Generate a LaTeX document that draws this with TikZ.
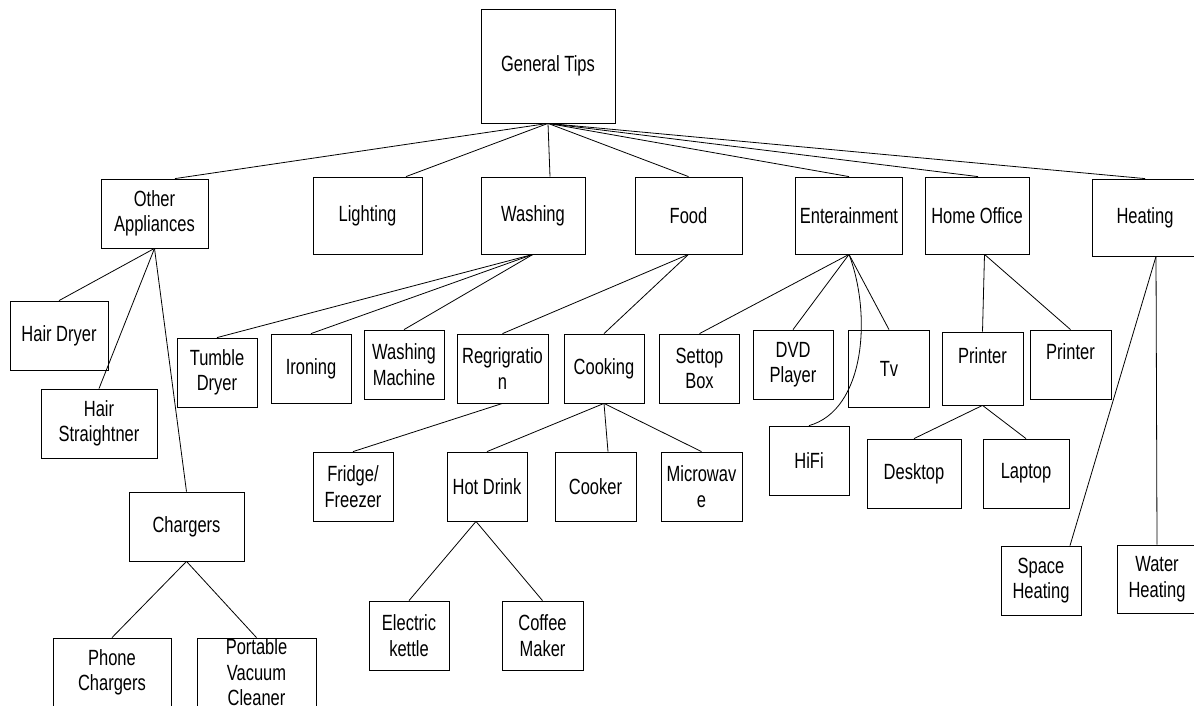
\documentclass[tikz,border=0pt]{standalone}
\usepackage{fontspec}
\setmainfont{Liberation Sans}[FakeStretch=0.75]
\usepackage{tikz}

\begin{document}
\begin{tikzpicture}[
      x=1pt, y=-1pt,
      box/.style={draw, line width=0.8pt, inner sep=0pt, align=center,
                  font=\fontsize{22}{25.5}\selectfont},
      cat/.style={box, minimum width=107pt, minimum height=77pt},
      leaf/.style={box, minimum width=81pt, minimum height=69pt},
      link/.style={line width=0.8pt}
    ]
    \useasboundingbox (0,0) rectangle (1194,706);

    \node[box, minimum width=134pt, minimum height=114pt] (gt) at (548,66) {General Tips};

    %% first level
    \node[cat, minimum height=69pt] (oa) at (154.5,213.5) {Other\\Appliances};
    \node[cat, minimum width=109pt] (li) at (367.5,215.5) {Lighting};
    \node[cat, minimum width=104pt] (wa) at (533,215.5) {Washing};
    \node[cat] (fo) at (688.5,215.5) {Food};
    \node[cat] (en) at (849,215.5) {Enterainment};
    \node[cat, minimum width=104pt] (ho) at (977,215.5) {Home Office};
    \node[cat, minimum width=106pt] (he) at (1145,217.5) {Heating};

    %% other appliances
    \node[leaf, minimum width=98pt]  (hd) at (59,335.5) {Hair Dryer};
    \node[leaf, minimum width=116pt] (hs) at (99,423.5) {Hair\\Straightner};
    \node[leaf, minimum width=115pt] (ch) at (186.5,526.5) {Chargers};
    \node[leaf, minimum width=118pt] (pc) at (112,672.5) {Phone\\Chargers};
    \node[leaf, minimum width=119pt,
          label={[box, draw=none]center:{Portable\\Vacuum\\Cleaner}}] (pv) at (256.5,672.5) {};

    %% washing and food
    \node[leaf, minimum width=80pt] (td) at (217,372.5) {Tumble\\Dryer};
    \node[leaf, minimum width=80pt] (ir) at (311,368.5) {Ironing};
    \node[leaf, minimum width=80pt] (wm) at (404,364.5) {Washing\\Machine};
    \node[leaf, minimum width=91pt] (re) at (502.5,368.5) {Regrigratio\\n};
    \node[leaf, minimum width=80pt] (co) at (604,368.5) {Cooking};
    \node[leaf, minimum width=80pt] (ff) at (353,486.5) {Fridge/\\Freezer};
    \node[leaf, minimum width=80pt] (dr) at (487,486.5) {Hot Drink};
    \node[leaf] (ck) at (595.5,486.5) {Cooker};
    \node[leaf] (mw) at (701.5,486.5) {Microwav\\e};
    \node[leaf, minimum width=80pt] (ek) at (409,635.5) {Electric\\kettle};
    \node[leaf] (cm) at (542.5,635.5) {Coffee\\Maker};

    %% entertainment
    \node[leaf, minimum width=80pt] (sb) at (699.5,368.5) {Settop\\Box};
    \node[leaf, minimum width=80pt] (dv) at (793,364.5) {DVD\\Player};
    \node[leaf, minimum height=77pt] (tv) at (889,368.5) {Tv};
    \node[leaf, minimum width=80pt] (hf) at (809,460.5) {HiFi};

    %% home office
    \node[leaf, minimum height=73pt] (p1) at (982.5,368.5) {Printer\\\phantom{P}};
    \node[leaf] (p2) at (1070.5,364.5) {Printer\\\phantom{P}};
    \node[leaf, minimum width=94pt] (dk) at (914,473.5) {Desktop};
    \node[leaf, minimum width=86pt] (lp) at (1026,473.5) {Laptop};

    %% heating
    \node[leaf, minimum width=80pt] (sh) at (1041,580.5) {Space\\Heating};
    \node[leaf, minimum width=80pt, minimum height=68pt] (wh) at (1157,579) {Water\\Heating};

    \draw[link] (gt.south) -- ([xshift=20.5pt]oa.north);
    \draw[link] (gt.south) -- ([xshift=38.5pt]li.north);
    \draw[link] (gt.south) -- ([xshift=17pt]wa.north);
    \draw[link] (gt.south) -- (fo.north);
    \draw[link] (gt.south) -- (en.north);
    \draw[link] (gt.south) -- ([xshift=1pt]ho.north);
    \draw[link] (gt.south) -- (he.north);

    \draw[link] (oa.south) -- (hd.north);
    \draw[link] (oa.south) -- (hs.north);
    \draw[link] (oa.south) -- (ch.north);
    \draw[link] (ch.south) -- (pc.north);
    \draw[link] (ch.south) -- (pv.north);

    \draw[link] (wa.south) -- (td.north);
    \draw[link] (wa.south) -- (ir.north);
    \draw[link] (wa.south) -- (wm.north);

    \draw[link] (fo.south) -- (re.north);
    \draw[link] (fo.south) -- (co.north);
    \draw[link] (re.south) -- (ff.north);
    \draw[link] (co.south) -- (dr.north);
    \draw[link] (co.south) -- ([xshift=12.5pt]ck.north);
    \draw[link] (co.south) -- (mw.north);
    \draw[link] ([xshift=-11pt]dr.south) -- (ek.north);
    \draw[link] ([xshift=-11pt]dr.south) -- (cm.north);

    \draw[link] (en.south) -- (sb.north);
    \draw[link] (en.south) -- (dv.north);
    \draw[link] (en.south) -- (tv.north);
    \draw[link] (en.south) .. controls (872,315) and (865,410) .. (hf.north);

    \draw[link] ([xshift=7.5pt]ho.south) -- (p1.north);
    \draw[link] ([xshift=7.5pt]ho.south) -- (p2.north);
    \draw[link] (p1.south) -- (dk.north);
    \draw[link] (p1.south) -- (lp.north);

    \draw[link] ([xshift=11pt]he.south) -- ([xshift=29pt]sh.north);
    \draw[link] ([xshift=11pt]he.south) -- (wh.north);
  \end{tikzpicture}
\end{document}
